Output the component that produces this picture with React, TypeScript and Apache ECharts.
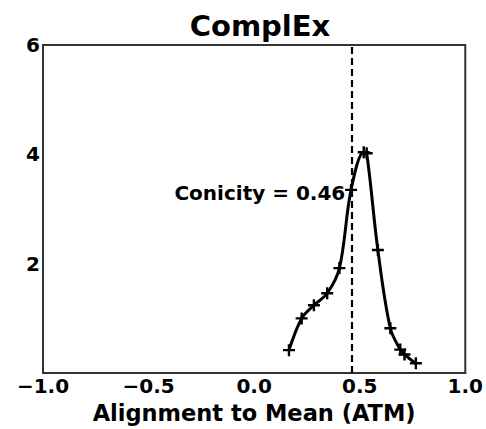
import React, { useEffect, useRef } from "react";
import * as echarts from "echarts";

const atm = [0.165, 0.225, 0.283, 0.346, 0.404, 0.459, 0.519, 0.533, 0.586, 0.645, 0.692, 0.712, 0.766];
const density = [0.42, 1.0, 1.24, 1.46, 1.92, 3.35, 4.04, 4.02, 2.25, 0.82, 0.43, 0.34, 0.18];
const conicity = 0.46;
const annotationY = 3.3;
const xTicks = [-1, -0.5, 0, 0.5, 1];
const yTicks = [2, 4, 6];

const FONT = "DejaVu Sans";
const plus = "path://M4,0H6V4H10V6H6V10H4V6H0V4H4Z";

export default function App() {
  const ref = useRef<HTMLDivElement>(null);
  useEffect(() => {
    if (!ref.current) return;
    const chart = echarts.init(ref.current, undefined, { renderer: "svg" });
    chart.setOption({
      animation: false,
      backgroundColor: "#ffffff",
      textStyle: { fontFamily: FONT },
      title: {
        text: "ComplEx",
        left: 255,
        textAlign: "center",
        top: 6,
        textStyle: { fontFamily: FONT, fontWeight: "bold", fontSize: 29, color: "#000" },
      },
      grid: {
        left: 43,
        right: 19,
        top: 45,
        bottom: 48,
        show: true,
        borderColor: "#333",
        borderWidth: 2,
        backgroundColor: "transparent",
      },
      xAxis: {
        type: "value",
        min: -1,
        max: 1,
        interval: 0.5,
        name: "Alignment to Mean (ATM)",
        nameLocation: "middle",
        nameGap: 20,
        nameTextStyle: { fontFamily: FONT, fontWeight: "bold", fontSize: 22.5, color: "#000", verticalAlign: "top" },
        axisLine: { show: true, onZero: false, lineStyle: { color: "#333", width: 2 } },
        axisTick: { show: false },
        splitLine: { show: false },
        axisLabel: {
          fontFamily: FONT,
          fontWeight: "bold",
          fontSize: 20,
          color: "#000",
          margin: 3,
          formatter: (v: number) => (xTicks.includes(v) ? v.toFixed(1).replace("-", "\u2212") : ""),
        },
      },
      yAxis: {
        type: "value",
        min: 0,
        max: 6,
        interval: 2,
        axisLine: { show: true, onZero: false, lineStyle: { color: "#333", width: 2 } },
        axisTick: { show: false },
        splitLine: { show: false },
        axisLabel: {
          fontFamily: FONT,
          fontWeight: "bold",
          fontSize: 20,
          color: "#000",
          margin: 3,
          formatter: (v: number) => (yTicks.includes(v) ? String(v) : ""),
        },
      },
      series: [
        {
          type: "line",
          data: atm.map((x, i) => [x, density[i]]),
          smooth: 0.35,
          symbol: plus,
          symbolSize: 12,
          showAllSymbol: true,
          lineStyle: { color: "#000", width: 3 },
          itemStyle: { color: "#000" },
          markLine: {
            silent: true,
            symbol: "none",
            label: { show: false },
            lineStyle: { color: "#000", type: [7, 4], width: 2.2 },
            data: [{ xAxis: conicity }],
          },
          markPoint: {
            silent: true,
            symbol: "circle",
            symbolSize: 0,
            data: [{ coord: [conicity, annotationY] }],
            label: {
              show: true,
              position: "left",
              distance: 6,
              formatter: "Conicity = " + conicity.toFixed(2),
              fontFamily: FONT,
              fontWeight: "bold",
              fontSize: 20,
              color: "#000",
            },
          },
        },
      ],
    });
    return () => chart.dispose();
  }, []);
  return <div ref={ref} style={{ position: "fixed", left: 0, top: 0, width: 486, height: 429 }} />;
}
